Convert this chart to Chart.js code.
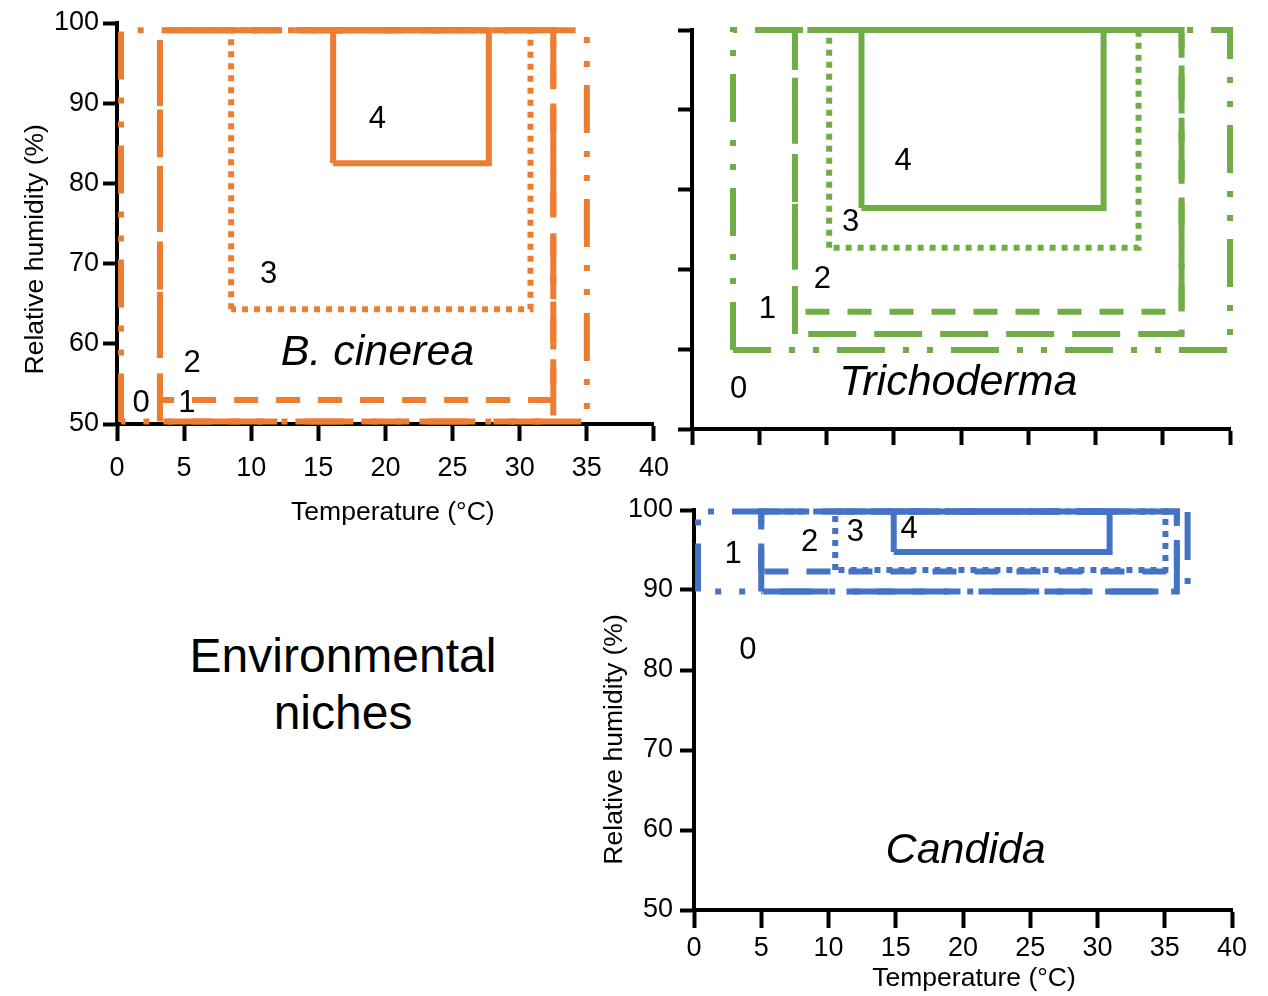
<!DOCTYPE html>
<html>
<head>
<meta charset="utf-8">
<script src="https://cdn.jsdelivr.net/npm/chart.js@4.4.1/dist/chart.umd.min.js"></script>
<style>
  body { margin: 0; background: #fff; width: 1268px; height: 996px; position: relative; overflow: hidden; font-family: "Liberation Sans", Arial, sans-serif; }
  canvas { position: absolute; }
  #niches { position: absolute; left: 143px; width: 400px; top: 627px; text-align: center; font-size: 48px; line-height: 57px; color: #000; }
</style>
</head>
<body>
<canvas id="cinerea" width="680" height="540" style="left:0;top:0"></canvas>
<canvas id="tricho" width="598" height="460" style="left:670px;top:0"></canvas>
<canvas id="candida" width="688" height="516" style="left:580px;top:480px"></canvas>
<div id="niches">Environmental<br>niches</div>
<script>
const FONT = '"Liberation Sans", Arial, sans-serif';
const NICHE_NAMES = ["0", "1", "2", "3", "4"];

// B. cinerea : 온도(°C) / 상대습도(%) 범위
const cinereaTmin = [0.3, 3.2, 3.2, 8.5, 16.1];
const cinereaTmax = [35.0, 32.5, 32.5, 30.8, 27.7];
const cinereaRHmin = [50.3, 50.3, 53.0, 64.3, 82.5];
const cinereaRHmax = [99.1, 99.1, 99.1, 99.1, 99.1];
const cinereaLabelT = [1.8, 5.2, 5.6, 11.3, 19.4];
const cinereaLabelRH = [52.6, 52.6, 57.6, 68.7, 88.0];

// Trichoderma
const trichoTmin = [3.05, 7.66, 7.66, 10.2, 12.6];
const trichoTmax = [40.0, 36.4, 36.4, 33.2, 30.6];
const trichoRHmin = [59.9, 61.9, 64.7, 72.7, 77.7];
const trichoRHmax = [100, 100, 100, 100, 100];
const trichoLabelT = [3.46, 5.6, 9.7, 11.8, 15.7];
const trichoLabelRH = [55.0, 65.0, 68.8, 75.9, 83.5];

// Candida
const candidaTmin = [0.3, 5.0, 5.0, 10.5, 14.85];
const candidaTmax = [36.7, 35.9, 35.9, 35.05, 30.9];
const candidaRHmin = [89.8, 89.8, 92.3, 92.5, 94.75];
const candidaRHmax = [99.8, 99.8, 99.8, 99.8, 99.8];
const candidaLabelT = [4.0, 2.9, 8.6, 12.0, 16.0];
const candidaLabelRH = [82.4, 94.5, 95.9, 97.25, 97.6];

// 선 스타일 (0: 이점쇄선, 1: 긴 파선, 2: 파선, 3: 점선, 4: 실선)
const LINE_DASHES = [[48, 18, 6, 18, 6, 18], [48, 18], [24, 18], [6, 6], []];

// 숫자 라벨과 종 이름 그리기
const nicheLabels = {
  id: 'nicheLabels',
  afterDatasetsDraw(chart, args, opts) {
    const { ctx, scales: { x, y } } = chart;
    ctx.save();
    ctx.fillStyle = '#000';
    ctx.textAlign = 'center';
    ctx.textBaseline = 'middle';
    ctx.font = '31px ' + FONT;
    opts.t.forEach((t, i) => {
      ctx.fillText(NICHE_NAMES[i], x.getPixelForValue(t), y.getPixelForValue(opts.rh[i]));
    });
    ctx.font = 'italic 43px ' + FONT;
    ctx.fillText(opts.name, x.getPixelForValue(opts.nameT), y.getPixelForValue(opts.nameRH));
    ctx.restore();
  }
};

function nicheChart(id, d) {
  const datasets = d.tMin.map((t0, i) => ({
    data: [
      { x: t0, y: d.rhMin[i] }, { x: t0, y: d.rhMax[i] },
      { x: d.tMax[i], y: d.rhMax[i] }, { x: d.tMax[i], y: d.rhMin[i] },
      { x: t0, y: d.rhMin[i] }
    ],
    showLine: true,
    borderColor: d.color,
    borderWidth: 6,
    borderDash: LINE_DASHES[i],
    borderJoinStyle: 'miter',
    pointRadius: 0,
    clip: false
  }));
  const tickFont = { family: FONT, size: 27 };
  const titleFont = { family: FONT, size: 26.5 };
  return new Chart(document.getElementById(id), {
    type: 'scatter',
    data: { datasets },
    plugins: [nicheLabels],
    options: {
      responsive: false,
      animation: false,
      events: [],
      layout: { padding: d.padding },
      plugins: {
        legend: { display: false },
        tooltip: { enabled: false },
        nicheLabels: { t: d.labelT, rh: d.labelRH, name: d.name, nameT: d.nameT, nameRH: d.nameRH }
      },
      scales: {
        x: {
          type: 'linear', min: 0, max: 40,
          ticks: { stepSize: 5, display: d.tickLabels, color: '#000', font: tickFont, padding: d.xTickPad, maxRotation: 0, autoSkip: false },
          grid: { drawOnChartArea: false, tickLength: d.xTickLen, tickWidth: 4, tickColor: '#000' },
          border: { color: '#000', width: 4 },
          title: { display: !!d.xTitle, text: d.xTitle, color: '#000', font: titleFont, padding: { top: 4, bottom: d.xTitlePad } },
          afterFit: s => { s.height = d.xSize; }
        },
        y: {
          type: 'linear', min: 50, max: 100,
          ticks: { stepSize: 10, display: d.tickLabels, color: '#000', font: tickFont, padding: d.yTickPad },
          grid: { drawOnChartArea: false, tickLength: 14, tickWidth: 4, tickColor: '#000' },
          border: { color: '#000', width: 4 },
          title: { display: !!d.yTitle, text: d.yTitle, color: '#000', font: titleFont, padding: 4 },
          afterFit: s => { s.width = d.ySize; }
        }
      }
    }
  });
}

nicheChart('cinerea', {
  color: '#ED7D31',
  tMin: cinereaTmin, tMax: cinereaTmax, rhMin: cinereaRHmin, rhMax: cinereaRHmax,
  labelT: cinereaLabelT, labelRH: cinereaLabelRH,
  name: 'B. cinerea', nameT: 19.4, nameRH: 58.85,
  tickLabels: true,
  xTitle: '  Temperature (°C)', yTitle: 'Relative humidity (%)       ',
  padding: { left: 16, top: 23, right: 26, bottom: 7 },
  xSize: 109, ySize: 101, xTickLen: 17, xTickPad: 11, yTickPad: 4, xTitlePad: 4
});

nicheChart('tricho', {
  color: '#70AD47',
  tMin: trichoTmin, tMax: trichoTmax, rhMin: trichoRHmin, rhMax: trichoRHmax,
  labelT: trichoLabelT, labelRH: trichoLabelRH,
  name: 'Trichoderma', nameT: 19.8, nameRH: 55.8,
  tickLabels: false,
  xTitle: '', yTitle: '',
  padding: { left: 2, top: 30, right: 38, bottom: 11 },
  xSize: 20, ySize: 20, xTickLen: 16, xTickPad: 0, yTickPad: 0, xTitlePad: 0
});

nicheChart('candida', {
  color: '#4472C4',
  tMin: candidaTmin, tMax: candidaTmax, rhMin: candidaRHmin, rhMax: candidaRHmax,
  labelT: candidaLabelT, labelRH: candidaLabelRH,
  name: 'Candida', nameT: 20.2, nameRH: 57.4,
  tickLabels: true,
  xTitle: '   Temperature (°C)', yTitle: 'Relative humidity (%)        ',
  padding: { left: 15, top: 30, right: 36, bottom: 1 },
  xSize: 85, ySize: 99, xTickLen: 18, xTickPad: 4, yTickPad: 7, xTitlePad: 0
});
</script>
</body>
</html>
